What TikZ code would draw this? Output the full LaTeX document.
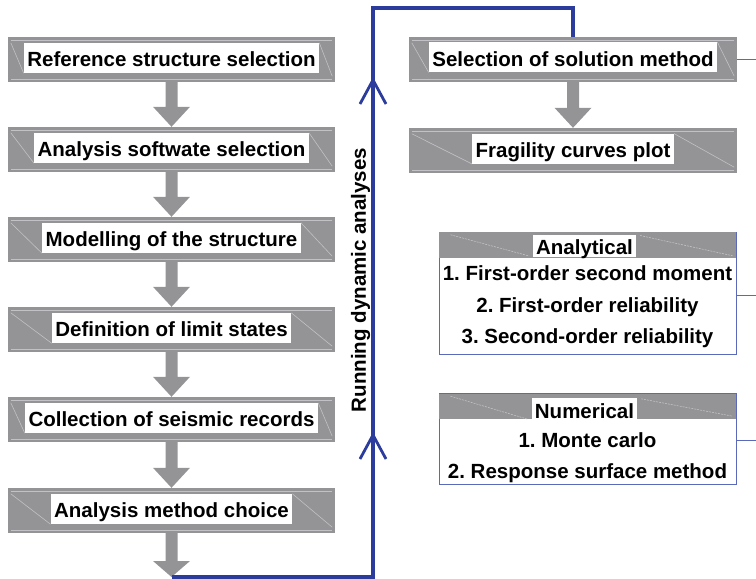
\documentclass[tikz,border=0pt]{standalone}
\usepackage{fontspec}
\setmainfont{Liberation Sans}
\usetikzlibrary{calc}
\frenchspacing
\definecolor{boxgrey}{HTML}{949496}
\definecolor{lightline}{HTML}{C2C2C6}
\definecolor{blueline}{HTML}{2B3C9C}
\definecolor{thinblue}{HTML}{5A6AB8}
\tikzset{
  greybox/.style={draw=none, fill=boxgrey, minimum width=327pt, minimum height=45pt, inner sep=0pt},
  rgreybox/.style={greybox, minimum width=328pt},
  bigfont/.style={font=\frenchspacing\bfseries\fontsize{20.5}{24}\selectfont},
  wlabel/.style={bigfont, fill=white, text=black, anchor=base, inner xsep=3.5pt, inner ysep=5.2pt, text height=18.5pt, text depth=1pt},
  hlabel/.style={bigfont, fill=white, text=black, anchor=base, inner xsep=3pt, inner ysep=2pt, text height=18pt, text depth=0pt},
  listtext/.style={bigfont, inner sep=0pt, text=black},
  decoline/.style={draw=lightline, line width=0.6pt},
  loopline/.style={draw=blueline, line width=3.2pt},
  loophead/.style={draw=blueline, line width=2.8pt},
  sideline/.style={draw=thinblue, line width=1pt},
  groupbox/.style={draw=thinblue, line width=1pt, minimum width=297pt, inner sep=0pt},
}
\newcommand\boxdeco[2]{%
  \draw[decoline] ($(#1.north west)+(3,3)$) -- ($(#1.north east)+(-3,3)$);
  \draw[decoline] ($(#1.south west)+(3,-3)$) -- ($(#1.south east)+(-3,-3)$);
  \draw[decoline] ($(#1.north west)+(3,6)$) -- (#2.south west);
  \draw[decoline] (#2.north east) -- ($(#1.south east)+(-3,-6)$);
}
\newcommand\garrow[3]{%
  \fill[boxgrey] ($(#1.south)+(-6,0)$) -- ($(#2)+(-6,-#3)$) -- ($(#2)+(-18.5,-#3)$) -- (#2)
    -- ($(#2)+(18.5,-#3)$) -- ($(#2)+(6,-#3)$) -- ($(#1.south)+(6,0)$) -- cycle;
}
\begin{document}
\begin{tikzpicture}[x=1pt, y=-1pt]
\useasboundingbox (0,0) rectangle (756,579);

% left column
\node[greybox] (b1) at (171.5,59.5) {};
\node[wlabel] (l1) at ($(b1)+(0,7.3)$) {Reference structure selection};
\node[greybox] (b2) at (171.5,149.5) {};
\node[wlabel] (l2) at ($(b2)+(0,7.3)$) {Analysis softwate selection};
\node[greybox] (b3) at (171.5,239.5) {};
\node[wlabel] (l3) at ($(b3)+(0,7.3)$) {Modelling of the structure};
\node[greybox] (b4) at (171.5,329.5) {};
\node[wlabel] (l4) at ($(b4)+(0,7.3)$) {Definition of limit states};
\node[greybox] (b5) at (171.5,419.5) {};
\node[wlabel] (l5) at ($(b5)+(0,7.3)$) {Collection of seismic records};
\node[greybox] (b6) at (171.5,510.5) {};
\node[wlabel] (l6) at ($(b6)+(0,7.3)$) {Analysis method choice};

\boxdeco{b1}{l1}
\boxdeco{b2}{l2}
\boxdeco{b3}{l3}
\boxdeco{b4}{l4}
\boxdeco{b5}{l5}
\boxdeco{b6}{l6}

\garrow{b1}{b2.north}{20}
\garrow{b2}{b3.north}{20}
\garrow{b3}{b4.north}{20}
\garrow{b4}{b5.north}{20}
\garrow{b5}{b6.north}{20}
\coordinate (tip) at (171.5,577);
\garrow{b6}{tip}{16}

% right column
\node[rgreybox] (r1) at (573,59.5) {};
\node[wlabel] (rl1) at ($(r1)+(0,6.5)$) {Selection of solution method};
\node[rgreybox] (r2) at (573,150.5) {};
\node[wlabel] (rl2) at ($(r2)+(0,7)$) {Fragility curves plot};
\boxdeco{r1}{rl1}
\boxdeco{r2}{rl2}
\garrow{r1}{r2.north}{20}

% running dynamic analyses loop
\coordinate (c1) at (373,577);
\coordinate (c2) at (373,8);
\coordinate (c3) at (573,8);
\draw[loopline, line join=miter] (tip) -- (c1) -- (c2) -- (c3) -- (r1.north);
\coordinate (h1) at (373,80);
\coordinate (h2) at (373,435);
\draw[loophead] ($(h1)+(-13,24)$) -- (h1) -- ($(h1)+(13,24)$);
\draw[loophead] ($(h2)+(-13,24)$) -- (h2) -- ($(h2)+(13,24)$);
\node[listtext, rotate=90] (rda) at (360.5,280) {Running dynamic analyses};

% Analytical group
\node[groupbox, minimum height=122.5pt] (an) at (587.5,293.5) {};
\fill[boxgrey] ($(an.north west)+(0.5,0.5)$) rectangle ($(an.north east)+(-0.5,26.5)$);
\node[hlabel] (anl) at (584.5,254.7) {Analytical};
\draw[decoline, dash pattern=on 2pt off 1pt] ($(an.north west)+(12,3)$) -- ($(anl.south west)+(-4,-1)$);
\draw[decoline, dash pattern=on 2pt off 1pt] ($(anl.north east)+(4,1)$) -- ($(an.north east)+(-4,24)$);
\node[listtext, anchor=base] (a1) at (587.5,280.3) {1. First-order second moment};
\node[listtext, anchor=base] (a2) at (587.5,312) {2. First-order reliability};
\node[listtext, anchor=base] (a3) at (587.5,343) {3. Second-order reliability};

% Numerical group
\node[groupbox, minimum height=91pt] (nu) at (587.5,439.2) {};
\fill[boxgrey] ($(nu.north west)+(0.5,0.5)$) rectangle ($(nu.north east)+(-0.5,25.3)$);
\node[hlabel] (nul) at (584.5,418) {Numerical};
\draw[decoline, dash pattern=on 2pt off 1pt] ($(nu.north west)+(12,3)$) -- ($(nul.south west)+(-4,-1)$);
\draw[decoline, dash pattern=on 2pt off 1pt] ($(nul.north east)+(4,1)$) -- ($(nu.north east)+(-4,23)$);
\node[listtext, anchor=base] (n1) at (587.5,447.3) {1. Monte carlo};
\node[listtext, anchor=base] (n2) at (587.5,478) {2. Response surface method};

% thin connectors to the right edge
\coordinate (e1) at (756,59.5);
\coordinate (e2) at (756,295);
\coordinate (e3) at (756,440);
\draw[sideline] (r1.east) -- (e1);
\draw[sideline] (an.east |- e2) -- (e2);
\draw[sideline] (nu.east |- e3) -- (e3);
\end{tikzpicture}
\end{document}
